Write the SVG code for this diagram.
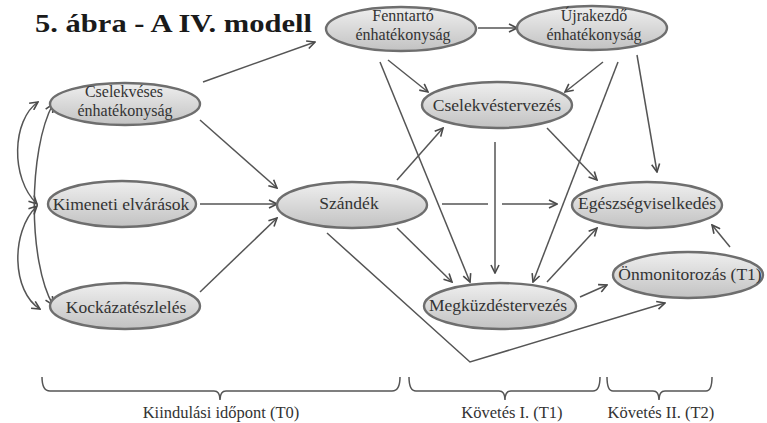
<svg xmlns="http://www.w3.org/2000/svg" width="767" height="423" viewBox="0 0 767 423">
<defs>
<linearGradient id="g" x1="0" y1="0" x2="0" y2="1">
<stop offset="0" stop-color="#efefef"/>
<stop offset="1" stop-color="#c2c2c2"/>
</linearGradient>
<marker id="a" viewBox="0 0 10 10" refX="9" refY="5" markerWidth="10" markerHeight="10" markerUnits="userSpaceOnUse" orient="auto-start-reverse">
<path d="M1,1 L9,5 L1,9" fill="none" stroke="#4a4a4a" stroke-width="1.6"/>
</marker>
</defs>
<style>
.n ellipse{fill:url(#g);stroke:#6e6e6e;stroke-width:2.4}
.t{font-family:'Liberation Serif','Times New Roman',serif;font-size:17.5px;fill:#333;text-anchor:middle}
.t2{font-family:'Liberation Serif','Times New Roman',serif;font-size:16px;fill:#333;text-anchor:middle}
.b{font-family:'Liberation Serif','Times New Roman',serif;font-size:16.5px;fill:#333;text-anchor:middle}
.c path,.c line{fill:none;stroke:#555;stroke-width:1.5}
.c .ar{marker-end:url(#a)}
.c .ab{marker-start:url(#a);marker-end:url(#a)}
.br path{fill:none;stroke:#555;stroke-width:1.5}
.ttl{font-family:'Liberation Serif','Times New Roman',serif;font-weight:bold;font-size:26px;fill:#1a1a1a}
</style>
<rect width="767" height="423" fill="#fff"/>
<text class="ttl" x="35" y="32" textLength="277" lengthAdjust="spacingAndGlyphs">5. ábra - A IV. modell</text>

<g class="c">
<path class="ab" d="M37,204 C10,178 12,120 38,102"/>
<path class="ab" d="M53,104 C28,150 28,262 53,305"/>
<path class="ab" d="M37,206 C10,232 12,292 40,309"/>
<line class="ar" x1="203" y1="82" x2="315" y2="42"/>
<line class="ar" x1="200" y1="120" x2="277" y2="188"/>
<line class="ar" x1="200" y1="204" x2="277" y2="204"/>
<line class="ar" x1="200" y1="292" x2="277" y2="218"/>
<line class="ar" x1="478" y1="28" x2="517" y2="28"/>
<line class="ar" x1="388" y1="60" x2="428" y2="92"/>
<line class="ar" x1="380" y1="62" x2="470" y2="282"/>
<line class="ar" x1="603" y1="62" x2="565" y2="92"/>
<line class="ar" x1="618" y1="62" x2="533" y2="282"/>
<line class="ar" x1="637" y1="55" x2="657" y2="172"/>
<line class="ar" x1="397" y1="180" x2="443" y2="128"/>
<line x1="442" y1="204" x2="488" y2="204"/>
<line class="ar" x1="502" y1="204" x2="557" y2="204"/>
<line class="ar" x1="397" y1="228" x2="452" y2="282"/>
<line class="ar" x1="495" y1="142" x2="495" y2="273"/>
<line class="ar" x1="547" y1="128" x2="597" y2="180"/>
<line class="ar" x1="547" y1="282" x2="597" y2="228"/>
<line class="ar" x1="580" y1="297" x2="607" y2="285"/>
<line class="ar" x1="730" y1="247" x2="712" y2="225"/>
<path class="ar" d="M327,233 L470,362 L665,303"/>
</g>

<g id="n-cselekveses" class="n"><ellipse cx="125" cy="104" rx="75" ry="21"/><text class="t2" x="124" y="97">Cselekvéses</text><text class="t2" x="125" y="116">énhatékonyság</text></g>
<g id="n-kimeneti" class="n"><ellipse cx="122" cy="204" rx="74" ry="23"/><text class="t" x="121" y="210">Kimeneti elvárások</text></g>
<g id="n-kockazat" class="n"><ellipse cx="125" cy="306" rx="75" ry="23"/><text class="t" x="126" y="313">Kockázatészlelés</text></g>
<g id="n-szandek" class="n"><ellipse cx="352" cy="205" rx="75" ry="23"/><text class="t" x="349" y="209">Szándék</text></g>
<g id="n-fenntarto" class="n"><ellipse cx="401" cy="29" rx="75" ry="22"/><text class="t2" x="403" y="21">Fenntartó</text><text class="t2" x="403" y="40">énhatékonyság</text></g>
<g id="n-ujrakezdo" class="n"><ellipse cx="592" cy="28" rx="75" ry="22"/><text class="t2" x="594" y="21">Újrakezdő</text><text class="t2" x="594" y="40">énhatékonyság</text></g>
<g id="n-cselekvestervezes" class="n"><ellipse cx="497" cy="105" rx="75" ry="23"/><text class="t" x="497" y="111">Cselekvéstervezés</text></g>
<g id="n-egeszseg" class="n"><ellipse cx="647" cy="205" rx="75" ry="23"/><text class="t" x="647" y="209">Egészségviselkedés</text></g>
<g id="n-onmonitorozas" class="n"><ellipse cx="688" cy="275" rx="75" ry="23"/><text class="t" x="690" y="280">Önmonitorozás (T1)</text></g>
<g id="n-megkuzdes" class="n"><ellipse cx="500" cy="306" rx="76" ry="23"/><text class="t" x="498" y="311">Megküzdéstervezés</text></g>

<g class="br">
<path d="M42,377 Q42,391 50,391 H214 Q220,391 220,400 Q220,391 226,391 H392 Q400,391 400,377"/>
<path d="M409,377 Q409,391 416,391 H499 Q505,391 505,400 Q505,391 511,391 H593 Q600,391 600,377"/>
<path d="M607,377 Q607,391 613,391 H653 Q659,391 659,400 Q659,391 665,391 H706 Q712,391 712,377"/>
</g>
<text class="b" x="221" y="418">Kiindulási időpont (T0)</text>
<text class="b" x="512" y="418">Követés I. (T1)</text>
<text class="b" x="661" y="418">Követés II. (T2)</text>
</svg>
